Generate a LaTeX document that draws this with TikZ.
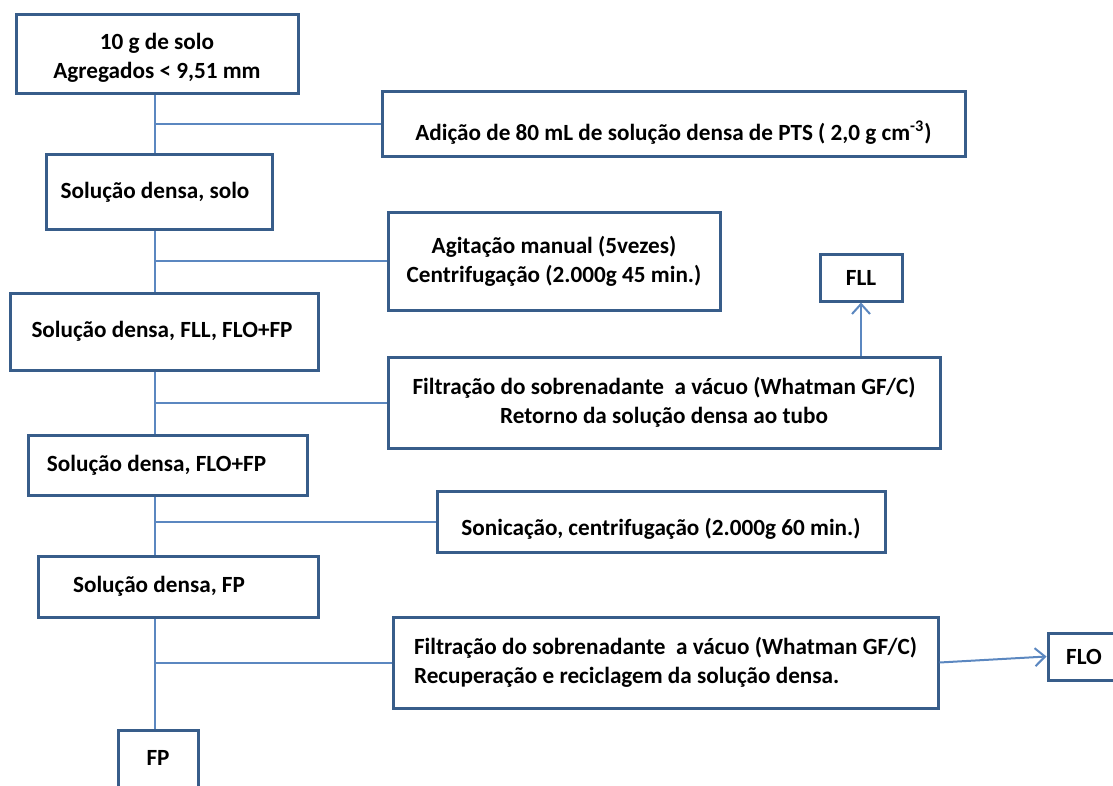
\documentclass[tikz,border=0pt]{standalone}
\usepackage{fontspec}
\setmainfont{Carlito}
\usetikzlibrary{calc,arrows.meta}
\definecolor{boxline}{HTML}{385D8A}
\definecolor{linkline}{HTML}{5B87C0}
\tikzset{
    block/.style = {draw=boxline, rectangle, line width=1.5pt,
        align=center, inner sep=2pt,
        font=\fontsize{11.6}{14.5}\selectfont\bfseries},
    link/.style = {draw=linkline, line width=1pt},
    arrow/.style = {link, -{Straight Barb[length=5pt,width=9pt]}}
}
\def\nudge#1#2{\hspace*{-#1}#2\hspace*{#1}}
\def\drop#1#2{\raisebox{-#1}[\height][\depth]{#2}}

\begin{document}
\begin{tikzpicture}[x=0.5pt, y=-0.5pt]
    \useasboundingbox (0,0) rectangle (1113,786);
    \coordinate (spine) at (155,0);
    \node [block, minimum width=141pt, minimum height=39.5pt] at (157,54.5) (solo) {\drop{1.5pt}{10 g de solo}\\ \drop{1.5pt}{Agregados < 9,51 mm}};
    \node [block, minimum width=291.5pt, minimum height=32.5pt] at (673.5,124.5) (adicao) {\drop{4pt}{Adição de 80 mL de solução densa de PTS ( 2,0 g cm\textsuperscript{-3})}};
    \node [block, minimum width=113pt, minimum height=37.5pt] at (159,192.5) (sdsolo) {\nudge{2pt}{Solução densa, solo}};
    \node [block, minimum width=166pt, minimum height=48.5pt] at (554,261.5) (agit) {Agitação manual (5vezes)\\ Centrifugação (2.000g 45 min.)};
    \node [block, minimum width=41pt, minimum height=23pt] at (861,278) (fll) {FLL};
    \node [block, minimum width=154pt, minimum height=38.5pt] at (164,331.5) (sdfll) {\nudge{1pt}{Solução densa, FLL, FLO+FP}};
    \node [block, minimum width=276pt, minimum height=45.5pt] at (664,402.5) (filtA) {Filtração do sobrenadante \ a vácuo (Whatman GF/C)\\ Retorno da solução densa ao tubo};
    \node [block, minimum width=139.5pt, minimum height=30pt] at (167.5,465) (sdflo) {\nudge{5.5pt}{Solução densa, FLO+FP}};
    \node [block, minimum width=224pt, minimum height=30.5pt] at (661,521.5) (sonic) {\drop{3.5pt}{Sonicação, centrifugação (2.000g 60 min.)}};
    \node [block, minimum width=140pt, minimum height=30.5pt] at (178,586.5) (sdfp) {\nudge{9.5pt}{Solução densa, FP}};
    \node [block, minimum width=272.5pt, minimum height=45.5pt, align=left] at (665.5,662.5) (filtB) {Filtração do sobrenadante \ a vácuo (Whatman GF/C)\\ Recuperação e reciclagem da solução densa.};
    \node [block, minimum width=36pt, minimum height=23.5pt] at (1084,656.5) (flo) {FLO};
    \node [block, minimum width=40pt, minimum height=35pt] at (158,765) (fp) {\raisebox{7pt}{FP}};
    \draw [link] (solo.south -| spine) -- (sdsolo.north -| spine);
    \draw [link] (adicao.west -| spine) -- (adicao.west);
    \draw [link] (sdsolo.south -| spine) -- (sdfll.north -| spine);
    \draw [link] (agit.west -| spine) -- (agit.west);
    \draw [link] (sdfll.south -| spine) -- (sdflo.north -| spine);
    \draw [link] (filtA.west -| spine) -- (filtA.west);
    \draw [arrow] (filtA.north -| fll.south) -- (fll.south);
    \draw [link] (sdflo.south -| spine) -- (sdfp.north -| spine);
    \draw [link] (sonic.west -| spine) -- (sonic.west);
    \draw [link] (sdfp.south -| spine) -- (fp.north -| spine);
    \draw [link] (filtB.west -| spine) -- (filtB.west);
    \draw [arrow] (filtB.east) -- (flo.west);
\end{tikzpicture}
\end{document}
